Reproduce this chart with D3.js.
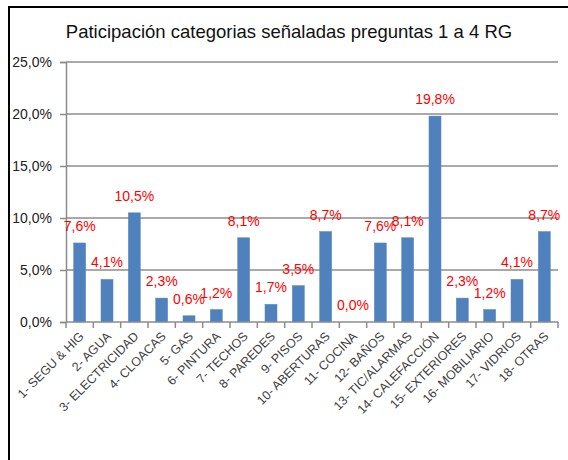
<!DOCTYPE html>
<html>
<head>
<meta charset="utf-8">
<script src="https://cdn.jsdelivr.net/npm/d3@7"></script>
<style>
  body { margin: 0; background: #fff; }
  svg { display: block; font-family: "Liberation Sans", Arial, sans-serif; }
</style>
</head>
<body>
<svg width="568" height="460"></svg>
<script>
// categories and values (percent)
var categorias = ["1- SEGU & HIG", "2- AGUA", "3- ELECTRICIDAD", "4- CLOACAS", "5- GAS",
  "6- PINTURA", "7- TECHOS", "8- PAREDES", "9- PISOS", "10- ABERTURAS", "11- COCINA",
  "12- BAÑOS", "13- TIC/ALARMAS", "14- CALEFACCIÓN", "15- EXTERIORES", "16- MOBILIARIO",
  "17- VIDRIOS", "18- OTRAS"];
var valores = [7.6, 4.1, 10.5, 2.3, 0.6, 1.2, 8.1, 1.7, 3.5, 8.7, 0.0, 7.6, 8.1, 19.8, 2.3, 1.2, 4.1, 8.7];
var yTicks = [0, 5, 10, 15, 20, 25];
var titulo = "Paticipación categorias señaladas preguntas 1 a 4 RG";

var svg = d3.select("svg"),
    width = +svg.attr("width"),
    height = +svg.attr("height");

var margin = {left: 66, right: 10, top: 62, bottom: 138};

var data = categorias.map(function(c, i) { return {cat: c, val: valores[i]}; });

var x = d3.scaleBand()
    .domain(categorias)
    .range([margin.left, width - margin.right])
    .paddingInner(0.56)
    .paddingOuter(0.28);

var y = d3.scaleLinear()
    .domain([0, 25])
    .range([height - margin.bottom, margin.top]);

var fmt = function(v) { return v.toFixed(1).replace(".", ",") + "%"; };

// frame
svg.append("path")
    .attr("d", "M9,460V7H568")
    .attr("fill", "none")
    .attr("stroke", "#000")
    .attr("stroke-width", 2);

// title
svg.append("text")
    .attr("x", 289)
    .attr("y", 38)
    .attr("text-anchor", "middle")
    .attr("font-size", 18.5)
    .attr("fill", "#111")
    .text(titulo);

// gridlines
svg.append("g")
    .selectAll("line")
    .data(yTicks.filter(function(t) { return t > 0; }))
    .enter().append("line")
    .attr("x1", margin.left)
    .attr("x2", width - margin.right)
    .attr("y1", function(d) { return y(d); })
    .attr("y2", function(d) { return y(d); })
    .attr("stroke", "#8c8c8c")
    .attr("stroke-width", 1.5);

// y axis
var yAxis = svg.append("g")
    .attr("transform", "translate(" + margin.left + ",0)")
    .call(d3.axisLeft(y).tickValues(yTicks).tickSize(6).tickFormat(fmt));
yAxis.select(".domain").attr("stroke", "#8c8c8c").attr("stroke-width", 1.5);
yAxis.selectAll(".tick line").attr("stroke", "#8c8c8c").attr("stroke-width", 1.5);
yAxis.selectAll("text")
    .attr("font-size", 14)
    .attr("fill", "#222")
    .attr("x", -14)
    .attr("font-family", "Liberation Sans, sans-serif");

// bars
svg.append("g")
    .selectAll("rect")
    .data(data)
    .enter().append("rect")
    .attr("x", function(d) { return x(d.cat); })
    .attr("y", function(d) { return y(d.val); })
    .attr("width", x.bandwidth())
    .attr("height", function(d) { return y(0) - y(d.val); })
    .attr("fill", "#4f81bd")
    .attr("stroke", "#5b8ac4")
    .attr("stroke-width", 0.5);

// x axis
var x0 = margin.left, x1 = width - margin.right;
var xAxisG = svg.append("g");
xAxisG.append("line")
    .attr("x1", x0).attr("x2", x1)
    .attr("y1", y(0)).attr("y2", y(0))
    .attr("stroke", "#8c8c8c").attr("stroke-width", 1.5);
xAxisG.selectAll(".tk")
    .data(d3.range(categorias.length + 1))
    .enter().append("line")
    .attr("class", "tk")
    .attr("x1", function(i) { return x0 + i * (x1 - x0) / categorias.length; })
    .attr("x2", function(i) { return x0 + i * (x1 - x0) / categorias.length; })
    .attr("y1", y(0))
    .attr("y2", y(0) + 6)
    .attr("stroke", "#8c8c8c").attr("stroke-width", 1.5);

xAxisG.selectAll(".lbl")
    .data(data)
    .enter().append("text")
    .attr("class", "lbl")
    .attr("text-anchor", "end")
    .attr("font-size", 12.5)
    .attr("fill", "#404040")
    .attr("transform", function(d) {
        var cx = x(d.cat) + x.bandwidth() / 2 + 5;
        return "translate(" + cx + "," + (y(0) + 15) + ") rotate(-45)";
    })
    .text(function(d) { return d.cat; });

// value labels
svg.append("g")
    .selectAll("text")
    .data(data)
    .enter().append("text")
    .attr("x", function(d) { return x(d.cat) + x.bandwidth() / 2; })
    .attr("y", function(d) { return y(d.val) - 12; })
    .attr("text-anchor", "middle")
    .attr("font-size", 14)
    .attr("fill", "#ff0000")
    .text(function(d) { return fmt(d.val); });
</script>
</body>
</html>
